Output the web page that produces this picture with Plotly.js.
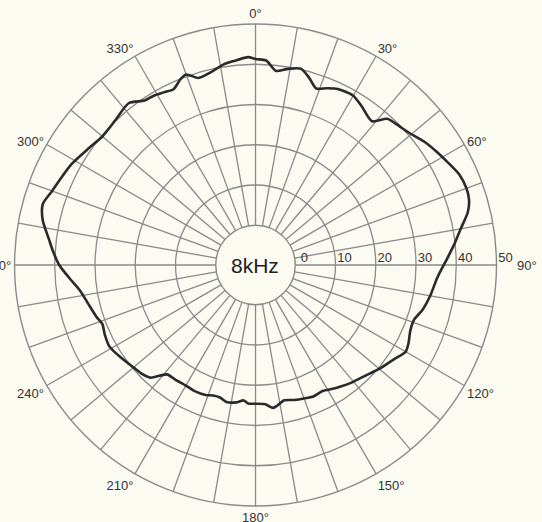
<!DOCTYPE html>
<html>
<head>
<meta charset="utf-8">
<script src="https://cdn.plot.ly/plotly-3.0.1.min.js"></script>
<style>html,body{margin:0;padding:0;background:#fbfbf2;}</style>
</head>
<body>
<div id="chart" style="width:542px;height:522px;"></div>
<script>
// Polar response at 8 kHz (angle in degrees, level on 0–50 scale)
const angles = [0,3,6,9,13,16,19,22,25,30,34,39,42,45,49,54,58,62,66,70,73,76,80,84,88,94,100,105,109,113,117,120,124,129,133,137,141,145,148,152,156,160,164,168,171,173,176,180,183,185,188,192,195,198,201,206,210,215,219,223,226,230,235,239,241,245,249,252,257,262,266,270,274,277,282,286,290,295,299,305,310,316,322,326,329,332,335,338,340,343,347,351,354,358,360];
const levels = [41.3,41.0,38.6,39.4,40.2,38.5,36.5,37.5,38.4,38.7,37.5,36.1,39.0,39.6,40.4,42.1,43.2,44.3,45.5,45.9,45.6,44.5,41.9,39.8,37.8,35.4,34.2,33.1,31.8,31.9,32.8,33.2,31.8,30.5,29.4,28.5,27.8,27.0,26.4,25.6,25.8,25.4,25.0,24.5,25.4,25.9,24.8,24.6,24.6,23.9,24.6,24.9,24.2,24.2,24.7,24.9,24.7,24.9,25.1,28.4,29.2,29.7,30.6,31.4,31.7,31.4,30.9,31.7,32.8,34.3,36.5,38.9,40.6,41.8,44.2,45.1,43.9,42.9,42.2,40.7,39.8,40.2,41.2,39.4,39.2,38.7,38.3,39.9,40.5,38.7,39.3,40.6,41.1,41.8,41.3];
const angTickVals = [];
for (let a = 0; a < 360; a += 10) angTickVals.push(a);
const NB = '\u00a0';
const eastLabel = '90°';
const angTickText = angTickVals.map(a => (a % 30 !== 0 || a === 90 ? '' : a + '°'));
const radialTicks = [0,10,20,30,40,50];
const centerLabel = '8kHz';

const trace = {
  type: 'scatterpolar',
  mode: 'lines',
  r: levels,
  theta: angles,
  line: {color: '#2a2a2a', width: 2.6, shape: 'spline', smoothing: 0.7},
  hoverinfo: 'skip'
};

const layout = {
  width: 542, height: 522,
  margin: {l: 0, r: 0, t: 0, b: 0},
  paper_bgcolor: '#fbfbf2',
  showlegend: false,
  font: {family: 'Liberation Sans, Arial, sans-serif', color: '#333', size: 13},
  polar: {
    domain: {x: [0.02675, 0.9161], y: [0.0307, 0.954]},
    bgcolor: '#fbfbf2',
    hole: 0.165,
    angularaxis: {
      rotation: 90,
      direction: 'clockwise',
      tickmode: 'array',
      tickvals: angTickVals,
      ticktext: angTickText,
      ticks: '',
      showline: true,
      linecolor: '#8a8a8a',
      linewidth: 1.4,
      gridcolor: '#8a8a8a',
      gridwidth: 1.3,
      tickfont: {size: 13, color: '#333'}
    },
    radialaxis: {
      range: [0, 50],
      angle: 0,
      tickangle: 0,
      side: 'counterclockwise',
      tickmode: 'array',
      tickvals: radialTicks,
      ticktext: radialTicks.map(v => NB.repeat(5) + v),
      ticks: '',
      showline: false,
      gridcolor: '#8a8a8a',
      gridwidth: 1.3,
      tickfont: {size: 13, color: '#333'}
    }
  },
  annotations: [{
    text: centerLabel,
    xref: 'paper', yref: 'paper',
    x: 0.4714, y: 0.4923,
    xanchor: 'center', yanchor: 'middle',
    showarrow: false,
    font: {size: 21, color: '#222', family: 'Liberation Sans, Arial, sans-serif'}
  }, {
    text: eastLabel,
    xref: 'paper', yref: 'paper',
    x: 0.950, y: 0.4923,
    xanchor: 'left', yanchor: 'middle',
    showarrow: false,
    font: {size: 13, color: '#333', family: 'Liberation Sans, Arial, sans-serif'}
  }]
};

Plotly.newPlot('chart', [trace], layout, {displayModeBar: false, staticPlot: true});
</script>
</body>
</html>
